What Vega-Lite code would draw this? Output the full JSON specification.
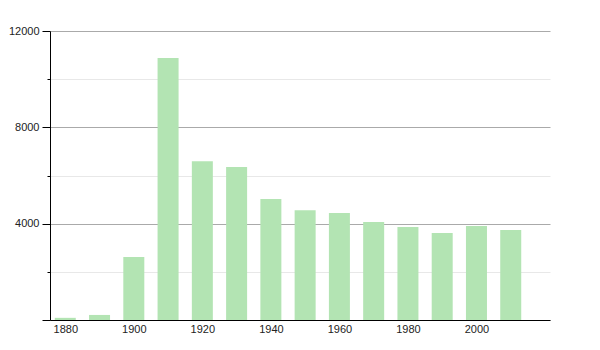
{
  "$schema": "https://vega.github.io/schema/vega-lite/v6.json",
  "width": 500,
  "height": 289,
  "autosize": {"type": "none"},
  "padding": {"left": 50, "top": 31, "right": 50, "bottom": 30},
  "background": "white",
  "config": {"view": {"stroke": null}, "font": "Liberation Sans"},
  "data": {"values": [
    {"year": 1880, "pop": 90},
    {"year": 1890, "pop": 210},
    {"year": 1900, "pop": 2620},
    {"year": 1910, "pop": 10880},
    {"year": 1920, "pop": 6590},
    {"year": 1930, "pop": 6350},
    {"year": 1940, "pop": 5020},
    {"year": 1950, "pop": 4560},
    {"year": 1960, "pop": 4440},
    {"year": 1970, "pop": 4070},
    {"year": 1980, "pop": 3860},
    {"year": 1990, "pop": 3610},
    {"year": 2000, "pop": 3900},
    {"year": 2010, "pop": 3740}
  ]},
  "mark": {"type": "bar", "width": 21, "color": "#b3e4b3"},
  "encoding": {
    "x": {
      "field": "year", "type": "quantitative",
      "scale": {"domain": [1877, 2020], "zero": false, "nice": false},
      "axis": {
        "title": null, "values": [1880, 1900, 1920, 1940, 1960, 1980, 2000],
        "format": "d", "ticks": false, "grid": false,
        "domainColor": "black", "domainWidth": 1,
        "labelFontSize": 11, "labelColor": "#222", "labelPadding": 3,
        "labelFlush": false
      }
    },
    "y": {
      "field": "pop", "type": "quantitative",
      "scale": {"domain": [0, 12000], "nice": false},
      "axis": {
        "title": null,
        "values": [0, 2000, 4000, 6000, 8000, 10000, 12000],
        "labelExpr": "(datum.value % 4000 === 0 && datum.value > 0) ? datum.value : ''",
        "domainColor": "black", "domainWidth": 1,
        "tickColor": "black",
        "tickSize": {"condition": {"test": "datum.value % 4000 === 0", "value": 8}, "value": 3},
        "grid": true,
        "gridColor": {"condition": {"test": "datum.value % 4000 === 0", "value": "#aaaaaa"}, "value": "#e8e8e8"},
        "labelFontSize": 11, "labelColor": "#222", "labelPadding": 3
      }
    }
  }
}
